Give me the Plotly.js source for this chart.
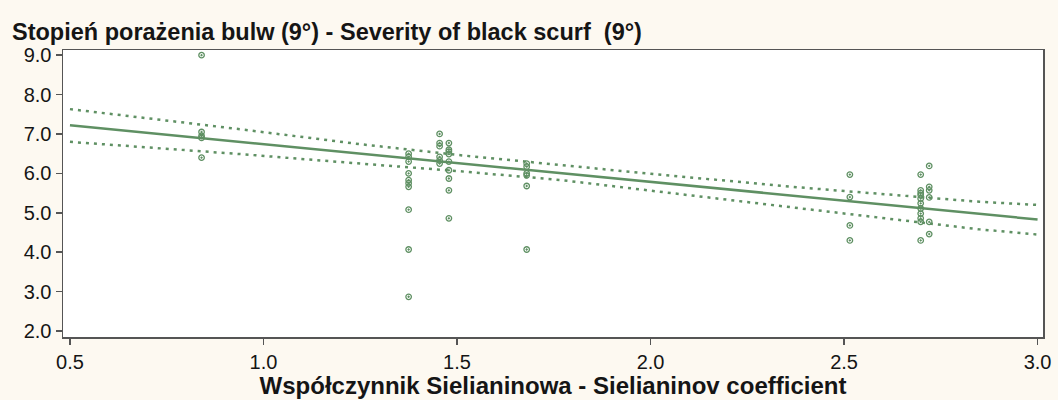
<!DOCTYPE html>
<html>
<head>
<meta charset="utf-8">
<script src="https://cdn.plot.ly/plotly-3.0.1.min.js"></script>
<style>
  html, body { margin: 0; padding: 0; background: #fdf9f1; }
  #chart { width: 1058px; height: 400px; }
</style>
</head>
<body>
<div id="chart"></div>
<script>
// Observed points (Sielianinov coefficient, severity of black scurf)
const pointX = [
  0.84, 0.84, 0.84, 0.84, 0.84,
  1.375, 1.375, 1.375, 1.375, 1.375, 1.375, 1.375, 1.375, 1.375, 1.375,
  1.455, 1.455, 1.455, 1.455, 1.455, 1.455,
  1.479, 1.479, 1.479, 1.479, 1.479, 1.479, 1.479, 1.479, 1.479,
  1.68, 1.68, 1.68, 1.68, 1.68, 1.68,
  2.515, 2.515, 2.515, 2.515,
  2.698, 2.698, 2.698, 2.698, 2.698, 2.698, 2.698, 2.698, 2.698, 2.698, 2.698,
  2.72, 2.72, 2.72, 2.72, 2.72, 2.72
];
const pointY = [
  9.0, 7.05, 6.95, 6.9, 6.4,
  6.5, 6.42, 6.3, 6.0, 5.83, 5.75, 5.66, 5.08, 4.07, 2.87,
  7.0, 6.77, 6.69, 6.42, 6.33, 6.25,
  6.77, 6.6, 6.55, 6.49, 6.3, 6.08, 5.87, 5.57, 4.86,
  6.25, 6.17, 6.0, 5.95, 5.68, 4.07,
  5.97, 5.4, 4.68, 4.30,
  5.97, 5.57, 5.5, 5.45, 5.36, 5.24, 5.11, 4.98, 4.86, 4.77, 4.30,
  6.19, 5.66, 5.57, 5.39, 4.77, 4.46
];
// Regression line
const fitX = [0.5, 3.0];
const fitY = [7.22, 4.83];
// Confidence band
const bandX = [0.5, 0.94, 1.25, 1.5, 1.77, 2.0, 2.39, 2.85, 3.0];
const bandUpper = [7.63, 7.12, 6.74, 6.47, 6.21, 5.99, 5.64, 5.28, 5.20];
const bandLower = [6.80, 6.49, 6.25, 6.06, 5.83, 5.57, 5.11, 4.58, 4.45];
// Ticks
const xTicks = [0.5, 1.0, 1.5, 2.0, 2.5, 3.0];
const xTickText = ["0.5", "1.0", "1.5", "2.0", "2.5", "3.0"];
const yTicks = [2, 3, 4, 5, 6, 7, 8, 9];
const yTickText = ["2.0", "3.0", "4.0", "5.0", "6.0", "7.0", "8.0", "9.0"];

const green = '#5f9063';
const font = 'Liberation Sans, Arial, sans-serif';
const textColor = '#151515';

const traces = [
  { x: bandX, y: bandUpper, mode: 'lines', line: { color: green, width: 2.5, dash: '3px,5px' }, hoverinfo: 'skip' },
  { x: bandX, y: bandLower, mode: 'lines', line: { color: green, width: 2.5, dash: '3px,5px' }, hoverinfo: 'skip' },
  { x: fitX, y: fitY, mode: 'lines', line: { color: green, width: 2.5 } },
  { x: pointX, y: pointY, mode: 'markers',
    marker: { symbol: 'circle-open-dot', size: 5.5, color: green, line: { color: green, width: 1.3 } } }
];

const layout = {
  width: 1058, height: 400,
  paper_bgcolor: '#fdf9f1',
  plot_bgcolor: '#ffffff',
  showlegend: false,
  margin: { l: 63, r: 15, t: 50, b: 63 },
  font: { family: font, color: textColor, size: 20 },
  title: {
    text: 'Stopień porażenia bulw (9°) - Severity of black scurf  (9°)',
    font: { family: font, size: 23.5, weight: 'bold', color: textColor },
    x: 12 / 1058, xanchor: 'left', xref: 'container',
    y: 1 - 32 / 400, yanchor: 'middle', yref: 'container'
  },
  xaxis: {
    range: [0.482, 3.014],
    tickmode: 'array', tickvals: xTicks, ticktext: xTickText,
    ticks: 'outside', ticklen: 6, tickwidth: 1.5, tickcolor: '#555',
    showline: true, linecolor: '#555', linewidth: 1.5, mirror: true,
    showgrid: false, zeroline: false,
    tickfont: { family: font, size: 20, color: textColor },
    title: { text: 'Współczynnik Sielianinowa - Sielianinov coefficient',
             font: { family: font, size: 24, weight: 'bold', color: textColor }, standoff: 2 }
  },
  yaxis: {
    range: [1.85, 9.13],
    tickmode: 'array', tickvals: yTicks, ticktext: yTickText,
    ticks: 'outside', ticklen: 6, tickwidth: 1.5, tickcolor: '#555',
    showline: true, linecolor: '#555', linewidth: 1.5, mirror: true,
    showgrid: false, zeroline: false,
    tickfont: { family: font, size: 20, color: textColor }
  }
};

Plotly.newPlot('chart', traces, layout, { displayModeBar: false, staticPlot: true });
</script>
</body>
</html>
